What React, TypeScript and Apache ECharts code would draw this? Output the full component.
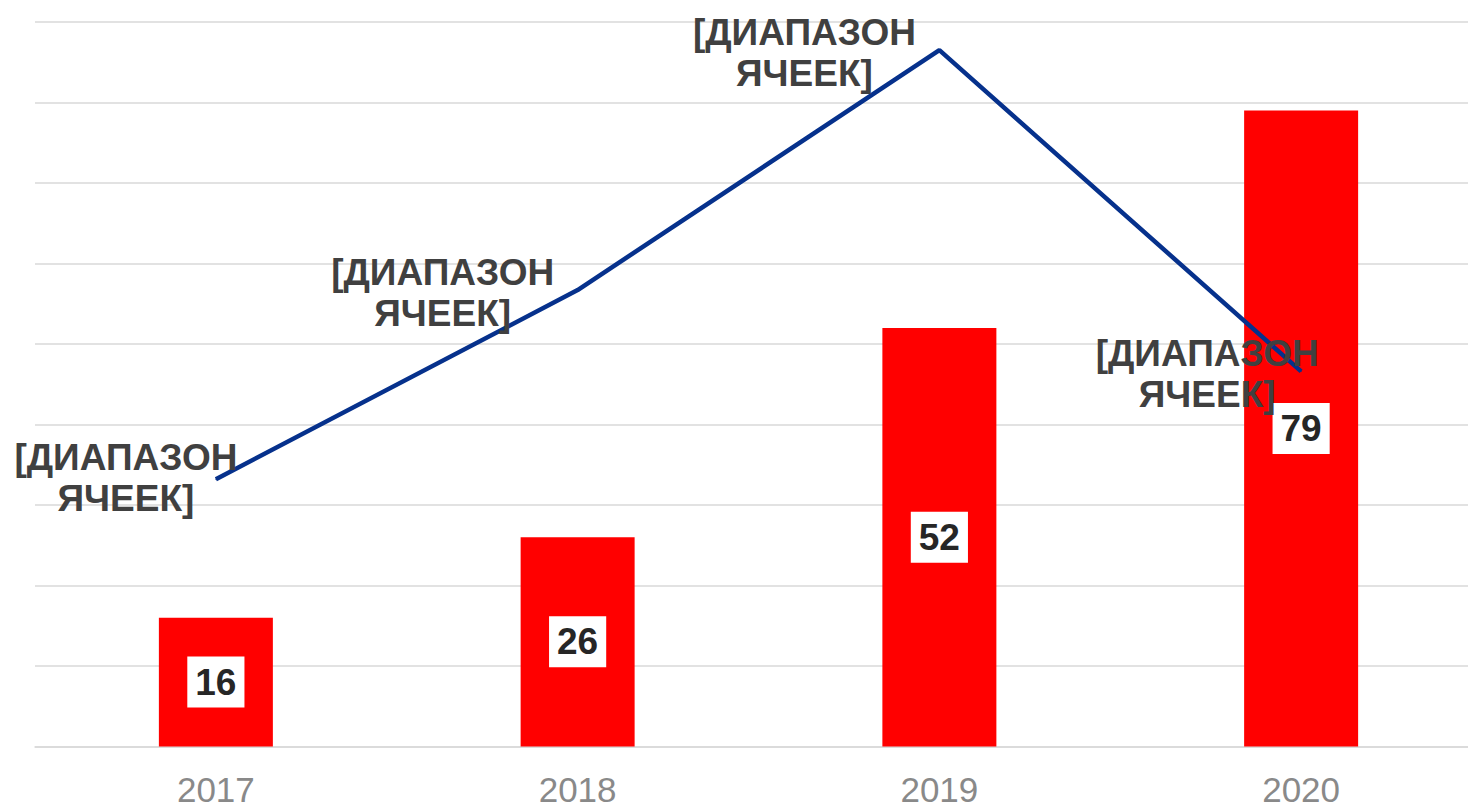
import React, { useEffect, useRef } from "react";
import * as echarts from "echarts";

const categories = ["2017", "2018", "2019", "2020"];
const barValues = [16, 26, 52, 79];
const lineValues = [33.2, 56.7, 86.5, 46.6];
const lineLabel = "[ДИАПАЗОН\nЯЧЕЕК]";
const lineLabelOffsets = [
  [-90, -1],
  [-135, 2.5],
  [-135, 2.5],
  [-94, 2.5],
];

export default function App() {
  const ref = useRef<HTMLDivElement>(null);
  useEffect(() => {
    if (!ref.current) return;
    const chart = echarts.init(ref.current, undefined, { renderer: "svg" });
    chart.setOption({
      animation: false,
      backgroundColor: "#ffffff",
      grid: { left: 35, top: 22, right: 0, bottom: 60.5, containLabel: false },
      xAxis: {
        type: "category",
        data: categories,
        axisTick: { show: false },
        axisLine: { show: true, lineStyle: { color: "#d9d9d9", width: 1.5 } },
        axisLabel: {
          color: "#898989",
          fontSize: 35,
          lineHeight: 28,
          fontFamily: "Liberation Sans, Arial, sans-serif",
          margin: 29,
        },
      },
      yAxis: {
        type: "value",
        min: 0,
        max: 90,
        interval: 10,
        axisLabel: { show: false },
        axisLine: { show: false },
        axisTick: { show: false },
        splitLine: { lineStyle: { color: "#d9d9d9", width: 1.5 } },
      },
      series: [
        {
          type: "bar",
          data: barValues,
          barWidth: 114,
          itemStyle: { color: "#ff0000" },
          z: 2,
          label: {
            show: true,
            position: "inside",
            color: "#262626",
            fontWeight: "bold",
            fontSize: 37,
            fontFamily: "Liberation Sans, Arial, sans-serif",
            backgroundColor: "#ffffff",
            padding: [5, 8, 5, 8],
            lineHeight: 41,
          },
        },
        {
          type: "line",
          data: lineValues.map((v, i) => ({
            value: v,
            label: { offset: lineLabelOffsets[i] },
          })),
          symbol: "circle",
          symbolSize: 1,
          itemStyle: { color: "#06318c" },
          lineStyle: { color: "#06318c", width: 4.5 },
          z: 3,
          label: {
            show: true,
            position: "inside",
            formatter: () => lineLabel,
            color: "#404040",
            fontWeight: "bold",
            fontSize: 37,
            lineHeight: 41,
            align: "center",
            fontFamily: "Liberation Sans, Arial, sans-serif",
          },
        },
      ],
    });
    return () => chart.dispose();
  }, []);
  return (
    <div
      style={{
        position: "fixed",
        left: 0,
        top: 0,
        width: 1468,
        height: 807,
        overflow: "hidden",
        background: "#ffffff",
      }}
    >
      <div ref={ref} style={{ width: 1482, height: 807 }} />
    </div>
  );
}
